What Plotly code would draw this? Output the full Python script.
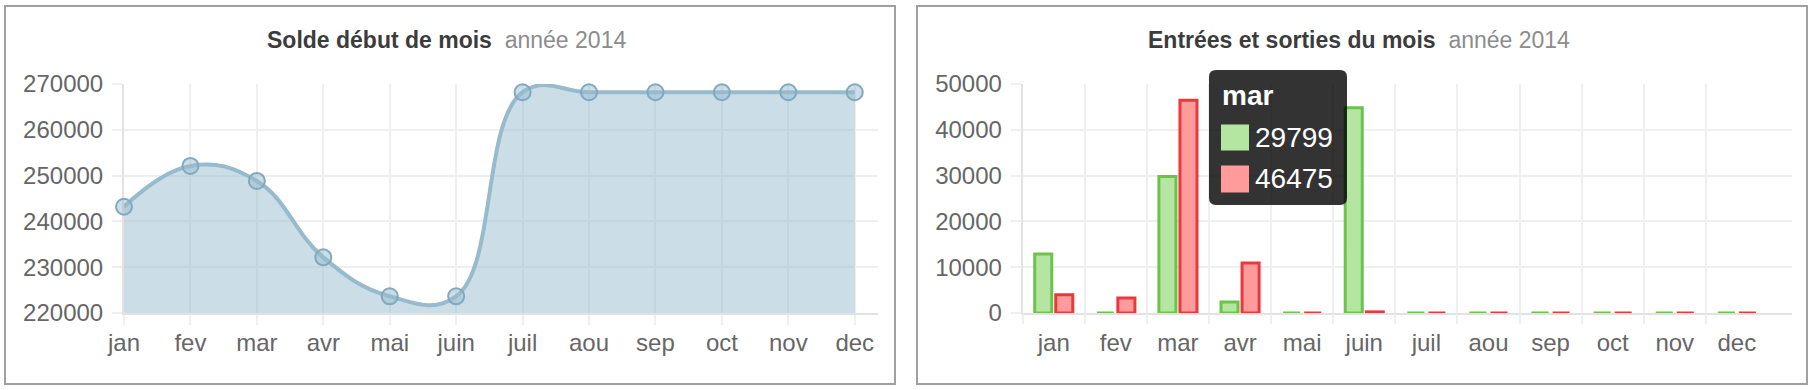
import plotly.graph_objects as go

# ---------------- data ----------------
mois = ["jan", "fev", "mar", "avr", "mai", "juin", "juil", "aou", "sep", "oct", "nov", "dec"]
solde = [243200, 252100, 248830, 232150, 223650, 223650, 268200, 268200, 268200, 268200, 268200, 268200]
entrees = [12900, 0, 29799, 2400, 0, 44800, 0, 0, 0, 0, 0, 0]
sorties = [4000, 3270, 46475, 10900, 0, 250, 0, 0, 0, 0, 0, 0]
titre_gauche = "Solde début de mois"
titre_droite = "Entrées et sorties du mois"
sous_titre = "année 2014"
mois_tooltip = "mar"

# ---------------- helpers (pixel -> paper) ----------------
W, H = 1814, 390
def px(x):
    return x / W
def py(y):
    return 1 - y / H

FONT = "Liberation Sans, Helvetica Neue, Helvetica, Arial, sans-serif"
GRID = "#efefef"
AXLINE = "#e2e2e2"
TICKC = "#666666"

fig = go.Figure()

# left: balance line
fig.add_trace(go.Scatter(
    x=mois, y=solde, mode="lines+markers",
    line=dict(color="rgba(151,187,205,1)", width=4, shape="spline", smoothing=1.2),
    fill="tozeroy", fillcolor="rgba(151,187,205,0.5)",
    marker=dict(size=16, color="rgba(151,187,205,0.5)",
                line=dict(color="rgba(128,168,190,1)", width=2)),
    cliponaxis=False, xaxis="x", yaxis="y", hoverinfo="skip",
))

# right: bars
fig.add_trace(go.Bar(
    x=mois, y=entrees, name="entrées",
    marker=dict(color="#b5e6a1", line=dict(color="#6cc24a", width=3)),
    xaxis="x2", yaxis="y2", hoverinfo="skip",
))
fig.add_trace(go.Bar(
    x=mois, y=sorties, name="sorties",
    marker=dict(color="#ff9b9b", line=dict(color="#e8393e", width=3)),
    xaxis="x2", yaxis="y2", hoverinfo="skip",
))
# helper trace for the boundary grid axis
fig.add_trace(go.Scatter(x=[None], y=[None], xaxis="x3", yaxis="y2",
                         showlegend=False, hoverinfo="skip"))

tickfont = dict(size=24, color=TICKC, family=FONT)
common_x = dict(showgrid=True, gridcolor=GRID, gridwidth=2, ticks="outside", ticklen=10,
                tickwidth=2, tickcolor=GRID, showline=True, linecolor=AXLINE, linewidth=2,
                zeroline=False, tickfont=tickfont, layer="below traces", fixedrange=True,
                automargin=False)
common_y = dict(showgrid=True, gridcolor=GRID, gridwidth=2, ticks="outside", ticklen=10,
                tickwidth=2, tickcolor=GRID, showline=True, linecolor=AXLINE, linewidth=2,
                zeroline=False, tickfont=tickfont, layer="below traces", dtick=10000,
                tickformat="d", ticklabelstandoff=4, fixedrange=True, automargin=False)

ydom = [py(313), py(84)]
n = len(mois)
fig.update_layout(
    width=W, height=H, margin=dict(l=0, r=0, t=0, b=0, pad=0), autosize=False,
    paper_bgcolor="white", plot_bgcolor="white", showlegend=False,
    hovermode=False, barmode="group", bargap=0.322, bargroupgap=0.19,
    font=dict(family=FONT),
    xaxis=dict(common_x, type="category", domain=[px(124), px(878)],
               range=[0, 11.35], anchor="y", ticklabelstandoff=-3),
    yaxis=dict(common_y, domain=ydom, range=[220000, 270000], anchor="x"),
    xaxis2=dict(common_x, type="category", domain=[px(1022.7), px(1792)],
                range=[-0.5, 11.888], anchor="y2", showgrid=False, ticks="",
                ticklabelstandoff=7),
    xaxis3=dict(overlaying="x2", anchor="y2", type="linear", range=[-0.5, 11.888],
                tickvals=[i - 0.5 for i in range(n)], showticklabels=False,
                showgrid=True, gridcolor=GRID, gridwidth=2, ticks="outside",
                ticklen=10, tickwidth=2, tickcolor=GRID, showline=False,
                zeroline=False, layer="below traces", fixedrange=True, automargin=False),
    yaxis2=dict(common_y, domain=ydom, range=[0, 50000], anchor="x2"),
)

# panel borders
for x0, x1 in [(5, 895), (917, 1807)]:
    fig.add_shape(type="rect", xref="paper", yref="paper",
                  x0=px(x0), x1=px(x1), y0=py(384), y1=py(6),
                  line=dict(color="#a0a0a0", width=2), fillcolor="rgba(0,0,0,0)",
                  layer="below")

# titles
def title(cx, baseline, main, fs=23):
    fig.add_annotation(
        x=px(cx), y=py(baseline - 0.347 * fs), xref="paper", yref="paper",
        text=f"<b>{main}</b> \u00a0<span style='color:#8c8c8c'>{sous_titre}</span>",
        showarrow=False, xanchor="center", yanchor="middle",
        font=dict(size=fs, color="#3c3c3c", family=FONT))

title(446, 47.7, titre_gauche)
title(1359, 47.7, titre_droite)

# tooltip (values taken from the data arrays)
i = mois.index(mois_tooltip)
bx0, bx1, by0, by1, r = 1209, 1347, 70, 205, 7
path = (f"M {px(bx0 + r)},{py(by0)} L {px(bx1 - r)},{py(by0)} "
        f"Q {px(bx1)},{py(by0)} {px(bx1)},{py(by0 + r)} "
        f"L {px(bx1)},{py(by1 - r)} Q {px(bx1)},{py(by1)} {px(bx1 - r)},{py(by1)} "
        f"L {px(bx0 + r)},{py(by1)} Q {px(bx0)},{py(by1)} {px(bx0)},{py(by1 - r)} "
        f"L {px(bx0)},{py(by0 + r)} Q {px(bx0)},{py(by0)} {px(bx0 + r)},{py(by0)} Z")
fig.add_shape(type="path", path=path, xref="paper", yref="paper",
              fillcolor="rgba(0,0,0,0.8)", line=dict(width=0), layer="above")
fig.add_shape(type="rect", xref="paper", yref="paper", x0=px(1221), x1=px(1249),
              y0=py(150.5), y1=py(124.5), fillcolor="#b5e6a1", line=dict(width=0),
              layer="above")
fig.add_shape(type="rect", xref="paper", yref="paper", x0=px(1221), x1=px(1249),
              y0=py(192.5), y1=py(165.5), fillcolor="#ff9b9b", line=dict(width=0),
              layer="above")

def tip_text(x, baseline, txt, bold=False, fs=28):
    fig.add_annotation(
        x=px(x), y=py(baseline - 0.347 * fs), xref="paper", yref="paper",
        text=f"<b>{txt}</b>" if bold else txt, showarrow=False,
        xanchor="left", yanchor="middle", borderpad=0,
        font=dict(size=fs, color="white", family=FONT))

tip_text(1221, 105, mois[i], bold=True)
tip_text(1254, 147.3, str(entrees[i]))
tip_text(1254, 188.3, str(sorties[i]))

fig.write_html("out.html", config={"displayModeBar": False, "staticPlot": True},
               post_script="document.body.style.margin='0';document.body.style.overflow='hidden';")
